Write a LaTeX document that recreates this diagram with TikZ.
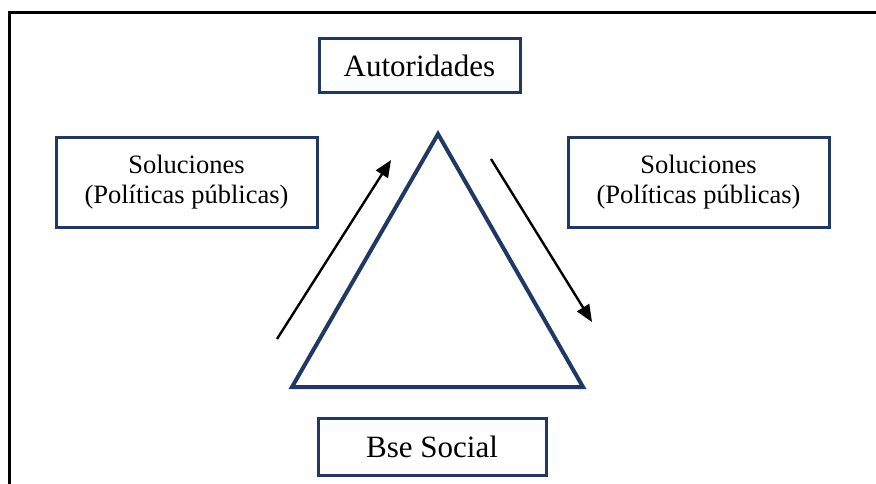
\documentclass[tikz,border=0pt]{standalone}
\usepackage{fontspec}
\setmainfont{Liberation Serif}
\usepackage{tikz}
\usetikzlibrary{arrows.meta}
\definecolor{marino}{HTML}{1F3864}

\begin{document}
\begin{tikzpicture}[x=1pt,y=-1pt,
                   caja/.style={draw=marino,line width=3pt,inner sep=0pt,align=center},
                   grande/.style={caja,font=\fontsize{31}{37}\selectfont},
                   chica/.style={caja,font=\fontsize{26.5}{30}\selectfont,minimum width=261pt,minimum height=89pt},
                   flecha/.style={line width=2.4pt,-{Triangle[length=17pt,width=14pt]}}]
\useasboundingbox (0,0) rectangle (876,484);
% marco
\draw[line width=3pt] (9,484) -- (9,13) -- (876,13);
% cajas
\node[grande,minimum width=201pt,minimum height=54pt] (aut) at (419.5,66) {Autoridades};
\node[grande,minimum width=228pt,minimum height=57pt] (base) at (432,446.5) {Bse Social};
\node[chica] (solizq) at (186.5,182.5) {Soluciones\\(Políticas públicas)};
\node[chica] (solder) at (698.5,182.5) {Soluciones\\(Políticas públicas)};
% triangulo
\coordinate (cima) at (438,134);
\coordinate (izq) at (292,387);
\coordinate (der) at (583,387);
\draw[marino,line width=4pt,line join=miter] (cima) -- (der) -- (izq) -- cycle;
% flechas
\coordinate (f1a) at (277,339);
\coordinate (f1b) at (391,160);
\coordinate (f2a) at (491,159);
\coordinate (f2b) at (592,322);
\draw[flecha] (f1a) -- (f1b);
\draw[flecha] (f2a) -- (f2b);
\end{tikzpicture}
\end{document}
